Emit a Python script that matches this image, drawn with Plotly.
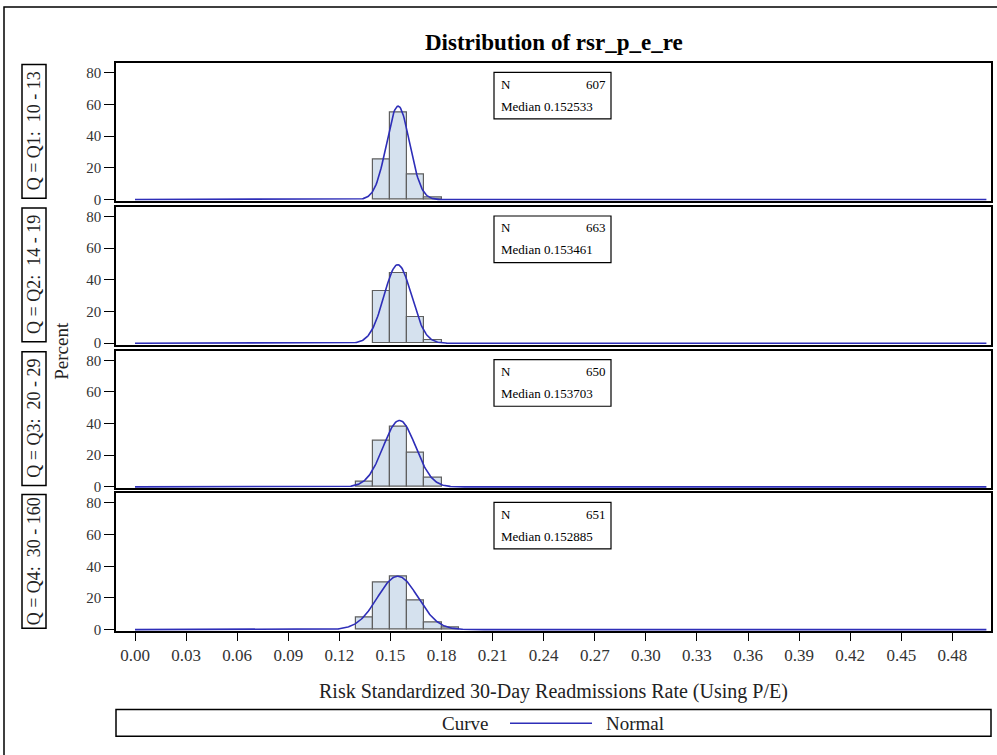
import numpy as np
import plotly.graph_objects as go

# ---------------- data ----------------
panel_labels = ["Q = Q1:\u00a0 10 - 13", "Q = Q2:\u00a0 14 - 19",
                "Q = Q3:\u00a0 20 - 29", "Q = Q4:\u00a0 30 - 160"]
q1_mid = [0.145, 0.155, 0.165, 0.175]
q1_pct = [25.6, 55.2, 16.0, 1.3]
q2_mid = [0.145, 0.155, 0.165, 0.175]
q2_pct = [33.1, 44.6, 16.3, 1.7]
q3_mid = [0.135, 0.145, 0.155, 0.165, 0.175]
q3_pct = [3.5, 29.1, 38.3, 21.3, 6.0]
q4_mid = [0.135, 0.145, 0.155, 0.165, 0.175, 0.185]
q4_pct = [7.6, 29.5, 33.3, 18.5, 4.8, 1.6]
normal_mu = [0.1545, 0.1543, 0.1553, 0.1543]
normal_sigma = [0.00676, 0.00804, 0.0095, 0.01184]
n_obs = [607, 663, 650, 651]
medians = ["0.152533", "0.153461", "0.153703", "0.152885"]
bin_width = 0.01
x_ticks = [round(0.03 * i, 2) for i in range(17)]
x_ticktext = ["%.2f" % v for v in x_ticks]
y_ticks = [0, 20, 40, 60, 80]

mids = [q1_mid, q2_mid, q3_mid, q4_mid]
pcts = [q1_pct, q2_pct, q3_pct, q4_pct]

W, H = 997, 765
def px(x): return x / W
def py(y): return 1 - y / H

SERIF = "Liberation Serif"
panel_tops = [64, 209, 354, 498]
panel_h = 139
XL, XR = 116, 991

fig = go.Figure()
shapes = []
annotations = []

def txt(text, x, y, size, xanchor="center", angle=0, color="#222"):
    annotations.append(dict(text=text, xref="paper", yref="paper", x=px(x), y=py(y),
                            xanchor=xanchor, yanchor="middle", showarrow=False,
                            textangle=angle, font=dict(family=SERIF, size=size, color=color)))

xs = np.linspace(0.0, 0.5, 1001)
for i in range(4):
    ax = "" if i == 0 else str(i + 1)
    top = panel_tops[i]
    bot = top + panel_h
    fig.add_trace(go.Bar(x=mids[i], y=pcts[i], width=bin_width,
                         marker=dict(color="#d5e1ee", line=dict(color="#5f5f5f", width=1.2)),
                         xaxis="x" + ax, yaxis="y" + ax, showlegend=False))
    mu, sd = normal_mu[i], normal_sigma[i]
    ys = 100 * bin_width / (sd * np.sqrt(2 * np.pi)) * np.exp(-0.5 * ((xs - mu) / sd) ** 2)
    fig.add_trace(go.Scatter(x=xs, y=ys, mode="lines",
                             line=dict(color="#2e2eb8", width=1.6),
                             xaxis="x" + ax, yaxis="y" + ax, showlegend=False, name="Normal"))
    last = (i == 3)
    fig.layout["xaxis" + ax] = dict(
        domain=[px(XL), px(XR)], range=[-0.01116, 0.5027], anchor="y" + ax,
        showline=True, mirror=True, linecolor="black", linewidth=1.5,
        showgrid=False, zeroline=False,
        tickvals=x_ticks, ticktext=x_ticktext,
        ticks="outside" if last else "", ticklen=8, tickcolor="black",
        showticklabels=last,
        tickfont=dict(family=SERIF, size=17, color="#333"),
        matches=None if i == 0 else "x")
    fig.layout["yaxis" + ax] = dict(
        domain=[py(bot), py(top)], range=[-1.0, 86.0], anchor="x" + ax,
        showline=True, mirror=True, linecolor="black", linewidth=1.5,
        showgrid=False, zeroline=False,
        tickvals=y_ticks, ticks="outside", ticklen=10, tickcolor="black",
        tickfont=dict(family=SERIF, size=15, color="#333"))
    # strip label
    shapes.append(dict(type="rect", xref="paper", yref="paper",
                       x0=px(22), x1=px(46), y0=py(bot - 3), y1=py(top + 1),
                       line=dict(color="black", width=1.5)))
    txt(panel_labels[i], 34, (top + bot - 2) / 2, 18, angle=-90)
    # inset stats box
    shapes.append(dict(type="rect", xref="paper", yref="paper",
                       x0=px(494), x1=px(611), y0=py(top + 56), y1=py(top + 9),
                       line=dict(color="black", width=1.2)))
    txt("N", 499, top + 21, 13, xanchor="left", color="black")
    txt(str(n_obs[i]), 608, top + 21, 13, xanchor="right", color="black")
    txt("Median " + medians[i], 499, top + 43, 13, xanchor="left", color="black")

# title, axis titles
txt("<b>Distribution of rsr_p_e_re</b>", 554, 43, 23, color="black")
txt("Percent", 62, 354, 19, angle=-90)
txt("Risk Standardized 30-Day Readmissions Rate (Using P/E)", 553, 698, 20)
# legend box
shapes.append(dict(type="rect", xref="paper", yref="paper", x0=px(XL), x1=px(XR),
                   y0=py(743), y1=py(716), line=dict(color="black", width=1.5)))
txt("Curve", 465, 730, 19)
shapes.append(dict(type="line", xref="paper", yref="paper", x0=px(510), x1=px(592),
                   y0=py(730), y1=py(730), line=dict(color="#2e2eb8", width=1.6)))
txt("Normal", 604, 730, 19, xanchor="left")
# outer border
shapes.append(dict(type="rect", xref="paper", yref="paper", x0=px(4), x1=px(1005),
                   y0=py(775), y1=py(7), line=dict(color="black", width=1.5)))

fig.update_layout(width=W, height=H, autosize=False, margin=dict(l=0, r=0, t=0, b=0),
                  plot_bgcolor="white", paper_bgcolor="white",
                  shapes=shapes, annotations=annotations, showlegend=False,
                  bargap=0)
page_js = "document.body.style.margin='0px';"
fig.write_html("out.html",
               config={"responsive": False, "displayModeBar": False},
               post_script=page_js)
